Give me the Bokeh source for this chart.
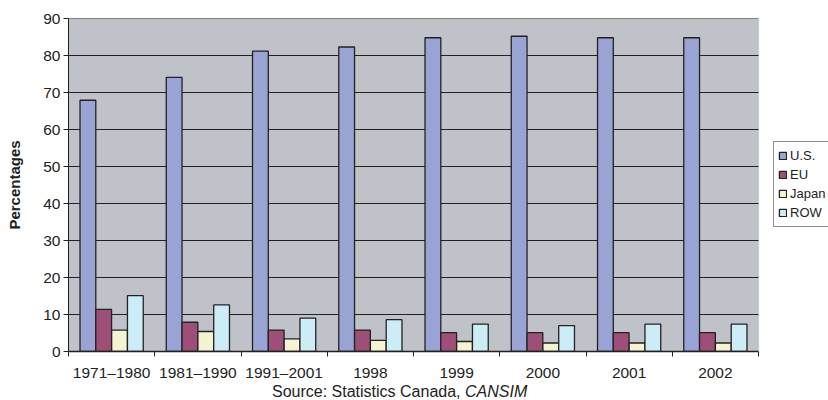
from bokeh.plotting import figure
from bokeh.models import ColumnDataSource, FixedTicker, Range1d, Legend, LegendItem, BoxAnnotation, Div
from bokeh.layouts import column
from bokeh.transform import dodge
from bokeh.embed import file_html
from bokeh.resources import INLINE

categories = ["1971–1980", "1981–1990", "1991–2001", "1998", "1999", "2000", "2001", "2002"]
us = [67.9, 74.1, 81.2, 82.3, 84.8, 85.2, 84.8, 84.8]
eu = [11.4, 7.9, 5.8, 5.8, 5.1, 5.1, 5.1, 5.1]
japan = [5.8, 5.4, 3.4, 3.0, 2.7, 2.3, 2.3, 2.3]
row = [15.1, 12.6, 9.0, 8.6, 7.4, 7.0, 7.4, 7.4]
series_names = ["U.S.", "EU", "Japan", "ROW"]
series_colors = ["#99A3D4", "#9E4F78", "#F4F4D2", "#CCECF6"]
y_ticks = [0, 10, 20, 30, 40, 50, 60, 70, 80, 90]
source_note = "Source: Statistics Canada, "
source_name = "CANSIM"

FONT = "Liberation Sans"
W = 828
LEFT = 68
CAT_PX = 86.25
n = len(categories)
ymax = y_ticks[-1]

xpos = [i + 0.5 for i in range(n)]
src = ColumnDataSource(dict(x=xpos, us=us, eu=eu, japan=japan, row=row))

p = figure(frame_width=W - LEFT, frame_height=333, output_backend="svg", toolbar_location=None,
           x_range=Range1d(0, (W - LEFT) / CAT_PX), y_range=Range1d(0, ymax),
           min_border_left=LEFT, min_border_right=0, min_border_top=18, min_border_bottom=29)

p.background_fill_color = "white"
p.border_fill_color = "white"
p.outline_line_color = None
p.xgrid.grid_line_color = None
p.ygrid.grid_line_color = None

# plot area (gray box with light border on top/right)
p.add_layout(BoxAnnotation(left=0, right=n, bottom=0, top=ymax, level="underlay",
                           fill_color="#C0C2CA", fill_alpha=1,
                           line_color="#9C9FA6", line_width=1.5))

# horizontal gridlines across the plot area only
p.segment(x0=[0] * (len(y_ticks) - 1), x1=[n] * (len(y_ticks) - 1),
          y0=y_ticks[1:], y1=y_ticks[1:], line_color="#222222", line_width=1)

cols = ["us", "eu", "japan", "row"]
offsets = [-0.275, -0.092, 0.092, 0.275]
bw = 0.183
renderers = []
for c, off, col in zip(cols, offsets, series_colors):
    r = p.vbar(x=dodge("x", off), top=c, width=bw, bottom=0, source=src,
               fill_color=col, line_color="#222222", line_width=1.3)
    renderers.append(r)

# x axis
p.xaxis.bounds = (0, n)
p.xaxis.ticker = FixedTicker(ticks=xpos, minor_ticks=list(range(n + 1)))
p.xaxis.major_label_overrides = {x: c for x, c in zip(xpos, categories)}
p.xaxis.major_tick_line_color = None
p.xaxis.major_tick_out = 0
p.xaxis.major_tick_in = 0
p.xaxis.minor_tick_line_color = "#222222"
p.xaxis.minor_tick_in = 0
p.xaxis.minor_tick_out = 5
p.xaxis.axis_line_color = "#222222"
p.xaxis.axis_line_width = 1.3
p.xaxis.major_label_text_font = FONT
p.xaxis.major_label_text_font_size = "15.5px"
p.xaxis.major_label_text_color = "#222222"
p.xaxis.major_label_standoff = 7

# y axis
p.yaxis.ticker = FixedTicker(ticks=y_ticks)
p.yaxis.minor_tick_line_color = None
p.yaxis.major_tick_in = 0
p.yaxis.major_tick_out = 5
p.yaxis.major_tick_line_color = "#222222"
p.yaxis.axis_line_color = "#222222"
p.yaxis.major_label_text_font = FONT
p.yaxis.major_label_text_font_size = "15.5px"
p.yaxis.major_label_text_color = "#222222"
p.yaxis.major_label_standoff = 3
p.yaxis.axis_label = "Percentages"
p.yaxis.axis_label_text_font = FONT
p.yaxis.axis_label_text_font_size = "15px"
p.yaxis.axis_label_text_font_style = "bold"
p.yaxis.axis_label_text_color = "#222222"
p.yaxis.axis_label_standoff = 17

legend = Legend(items=[LegendItem(label=nm, renderers=[r]) for nm, r in zip(series_names, renderers)],
                location=(705, 124), orientation="vertical",
                border_line_color="#222222", border_line_width=1,
                background_fill_color="white", background_fill_alpha=1,
                label_text_font=FONT, label_text_font_size="13px", label_text_color="#222222",
                glyph_width=9, glyph_height=9, label_standoff=3, spacing=0,
                label_height=19, padding=4, margin=0)
p.add_layout(legend, "center")

note = Div(text=f'<div style="font-family:\'{FONT}\';font-size:16px;color:#222222;'
                f'width:{W}px;text-align:left;padding-left:272px;padding-top:0px;line-height:17px;">'
                f'{source_note}<i>{source_name}</i></div>',
           width=W, height=18, margin=(0, 0, 0, 0))

layout = column(p, note, spacing=0)
open("out.html", "w").write(file_html(layout, INLINE))
